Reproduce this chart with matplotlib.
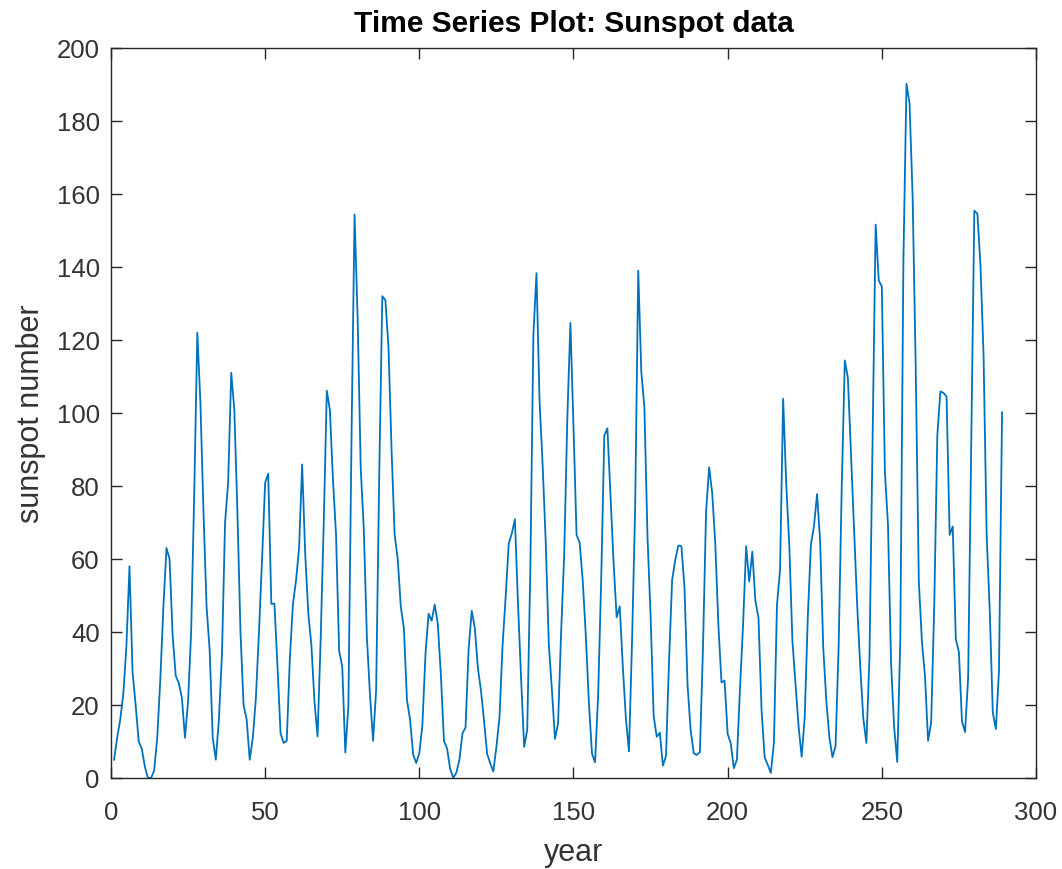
import matplotlib
matplotlib.use("Agg")
import matplotlib.pyplot as plt
import numpy as np

# Yearly mean sunspot numbers, 1700-1988
sunspots = [
    5, 11, 16, 23, 36, 58, 29, 20, 10, 8,
    3, 0, 0, 2, 11, 27, 47, 63, 60, 39,
    28, 26, 22, 11, 21, 40, 78, 122, 103, 73,
    47, 35, 11, 5, 16, 34, 70, 81, 111, 101,
    73, 40, 20, 16, 5, 11, 22, 40, 60, 80.9,
    83.4, 47.7, 47.8, 30.7, 12.2, 9.6, 10.2, 32.4, 47.6, 54,
    62.9, 85.9, 61.2, 45.1, 36.4, 20.9, 11.4, 37.8, 69.8, 106.1,
    100.8, 81.6, 66.5, 34.8, 30.6, 7, 19.8, 92.5, 154.4, 125.9,
    84.8, 68.1, 38.5, 22.8, 10.2, 24.1, 82.9, 132, 130.9, 118.1,
    89.9, 66.6, 60, 46.9, 41, 21.3, 16, 6.4, 4.1, 6.8,
    14.5, 34, 45, 43.1, 47.5, 42.2, 28.1, 10.1, 8.1, 2.5,
    0, 1.4, 5, 12.2, 13.9, 35.4, 45.8, 41.1, 30.1, 23.9,
    15.6, 6.6, 4, 1.8, 8.5, 16.6, 36.3, 49.6, 64.2, 67,
    70.9, 47.8, 27.5, 8.5, 13.2, 56.9, 121.5, 138.3, 103.2, 85.7,
    64.6, 36.7, 24.2, 10.7, 15, 40.1, 61.5, 98.5, 124.7, 96.3,
    66.6, 64.5, 54.1, 39, 20.6, 6.7, 4.3, 22.7, 54.8, 93.8,
    95.8, 77.2, 59.1, 44, 47, 30.5, 16.3, 7.3, 37.6, 74,
    139, 111.2, 101.6, 66.2, 44.7, 17, 11.3, 12.4, 3.4, 6,
    32.3, 54.3, 59.7, 63.7, 63.5, 52.2, 25.4, 13.1, 6.8, 6.3,
    7.1, 35.6, 73, 85.1, 78, 64, 41.8, 26.2, 26.7, 12.1,
    9.5, 2.7, 5, 24.4, 42, 63.5, 53.8, 62, 48.5, 43.9,
    18.6, 5.7, 3.6, 1.4, 9.6, 47.4, 57.1, 103.9, 80.6, 63.6,
    37.6, 26.1, 14.2, 5.8, 16.7, 44.3, 63.9, 69, 77.8, 64.9,
    35.7, 21.2, 11.1, 5.7, 8.7, 36.1, 79.7, 114.4, 109.6, 88.8,
    67.8, 47.5, 30.6, 16.3, 9.6, 33.2, 92.6, 151.6, 136.3, 134.7,
    83.9, 69.4, 31.5, 13.9, 4.4, 38, 141.7, 190.2, 184.8, 159,
    112.3, 53.9, 37.5, 27.9, 10.2, 15.1, 47, 93.8, 105.9, 105.5,
    104.5, 66.6, 68.9, 38, 34.5, 15.5, 12.6, 27.5, 92.5, 155.4,
    154.6, 140.4, 115.9, 66.6, 45.9, 17.9, 13.4, 29.4, 100.2,
]
year_index = np.arange(1, len(sunspots) + 1)

x_ticks = [0, 50, 100, 150, 200, 250, 300]
y_ticks = [0, 20, 40, 60, 80, 100, 120, 140, 160, 180, 200]

plt.rcParams["font.family"] = ["Liberation Sans", "DejaVu Sans"]
axis_color = "#262626"
text_color = "#333333"

fig = plt.figure(figsize=(10.62, 8.70), dpi=100)
ax = fig.add_axes([0.1045, 0.1046, 0.871, 0.8391])

ax.plot(year_index, sunspots, color="#0072BD", linewidth=1.3)

ax.set_xlim(0, 300)
ax.set_ylim(0, 200)
ax.set_xticks(x_ticks)
ax.set_yticks(y_ticks)

for side in ax.spines.values():
    side.set_color(axis_color)
    side.set_linewidth(1.0)
ax.tick_params(direction="in", length=8, width=1.0, colors=axis_color,
               labelcolor=text_color, labelsize=18.5, top=True, right=True)
ax.tick_params(axis="x", pad=16)
ax.tick_params(axis="y", pad=8)

ax.set_title("Time Series Plot: Sunspot data", fontsize=21.5, fontweight="bold",
             color="black", pad=12)
ax.set_xlabel("year", fontsize=22, color=text_color, labelpad=9)
ax.set_ylabel("sunspot number", fontsize=22, color=text_color, labelpad=8)

fig.savefig("out.png", dpi=100, facecolor="white")
